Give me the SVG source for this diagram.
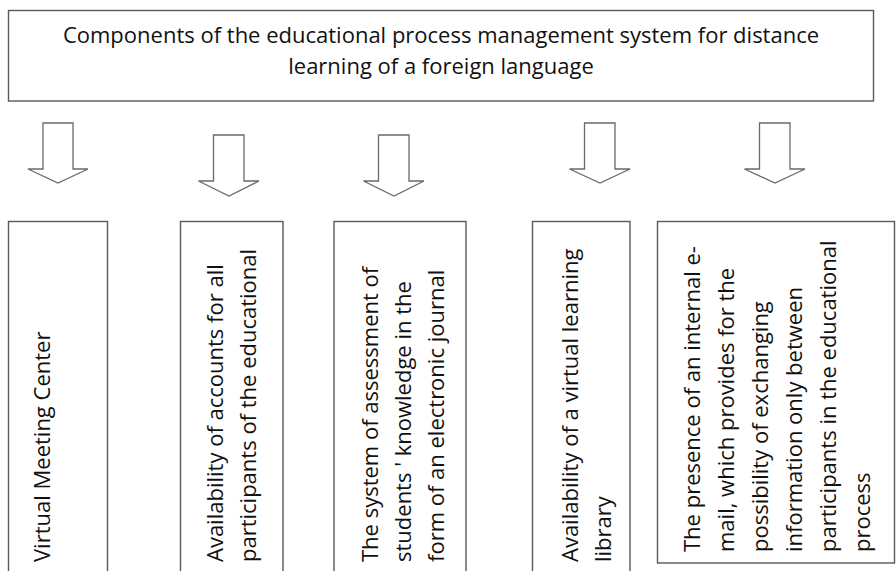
<svg xmlns="http://www.w3.org/2000/svg" width="896" height="571" viewBox="0 0 896 571">
  <style>
    .box { fill: #ffffff; stroke: #595959; stroke-width: 1.4; }
    .arrow { fill: #ffffff; stroke: #6a6a6a; stroke-width: 1.3; stroke-linejoin: miter; }
    .t { font-family: "Open Sans", "Liberation Sans", sans-serif; font-size: 22px; fill: #111111; }
  </style>
  <rect x="0" y="0" width="896" height="571" fill="#ffffff"/>
  <g id="top">
    <rect class="box" x="8.5" y="10.5" width="865" height="90.5"/>
    <text class="t" text-anchor="middle" x="441" y="43">Components of the educational process management system for distance</text>
    <text class="t" text-anchor="middle" x="441" y="74">learning of a foreign language</text>
  </g>
  <g id="connectors">
    <path class="arrow" d="M43,123 H73 V169 H88 L58,183 L28,169 H43 Z"/>
    <path class="arrow" d="M213.5,135 H244 V181 H259 L229,196 L198.5,181 H213.5 Z"/>
    <path class="arrow" d="M378.5,135 H409 V181 H424 L394,196 L363.5,181 H378.5 Z"/>
    <path class="arrow" d="M584.5,123 H615 V169 H630 L600,183 L569.5,169 H584.5 Z"/>
    <path class="arrow" d="M759.5,123 H790 V169 H805 L775,183 L744.5,169 H759.5 Z"/>
  </g>
  <g id="n1">
    <rect class="box" x="8.5" y="221.5" width="99" height="360"/>
    <text class="t" transform="translate(50,562) rotate(-90)">Virtual Meeting Center</text>
  </g>
  <g id="n2">
    <rect class="box" x="180.5" y="221.5" width="102.5" height="360"/>
    <text class="t" transform="translate(223,562) rotate(-90)"><tspan x="0" y="0">Availability of accounts for all</tspan><tspan x="0" y="33">participants of the educational</tspan></text>
  </g>
  <g id="n3">
    <rect class="box" x="334" y="221.5" width="132" height="360"/>
    <text class="t" transform="translate(378,562) rotate(-90)"><tspan x="0" y="0">The system of assessment of</tspan><tspan x="0" y="33">students ' knowledge in the</tspan><tspan x="0" y="66">form of an electronic journal</tspan></text>
  </g>
  <g id="n4">
    <rect class="box" x="532.5" y="221.5" width="97.5" height="360"/>
    <text class="t" transform="translate(578,562) rotate(-90)"><tspan x="0" y="0">Availability of a virtual learning</tspan><tspan x="0" y="33">library</tspan></text>
  </g>
  <g id="n5">
    <rect class="box" x="657.5" y="221.5" width="237" height="341.5"/>
    <text class="t" transform="translate(700,552) rotate(-90)"><tspan x="0" y="0">The presence of an internal e-</tspan><tspan x="0" y="34">mail, which provides for the</tspan><tspan x="0" y="68">possibility of exchanging</tspan><tspan x="0" y="102">information only between</tspan><tspan x="0" y="136">participants in the educational</tspan><tspan x="0" y="170">process</tspan></text>
  </g>
</svg>
